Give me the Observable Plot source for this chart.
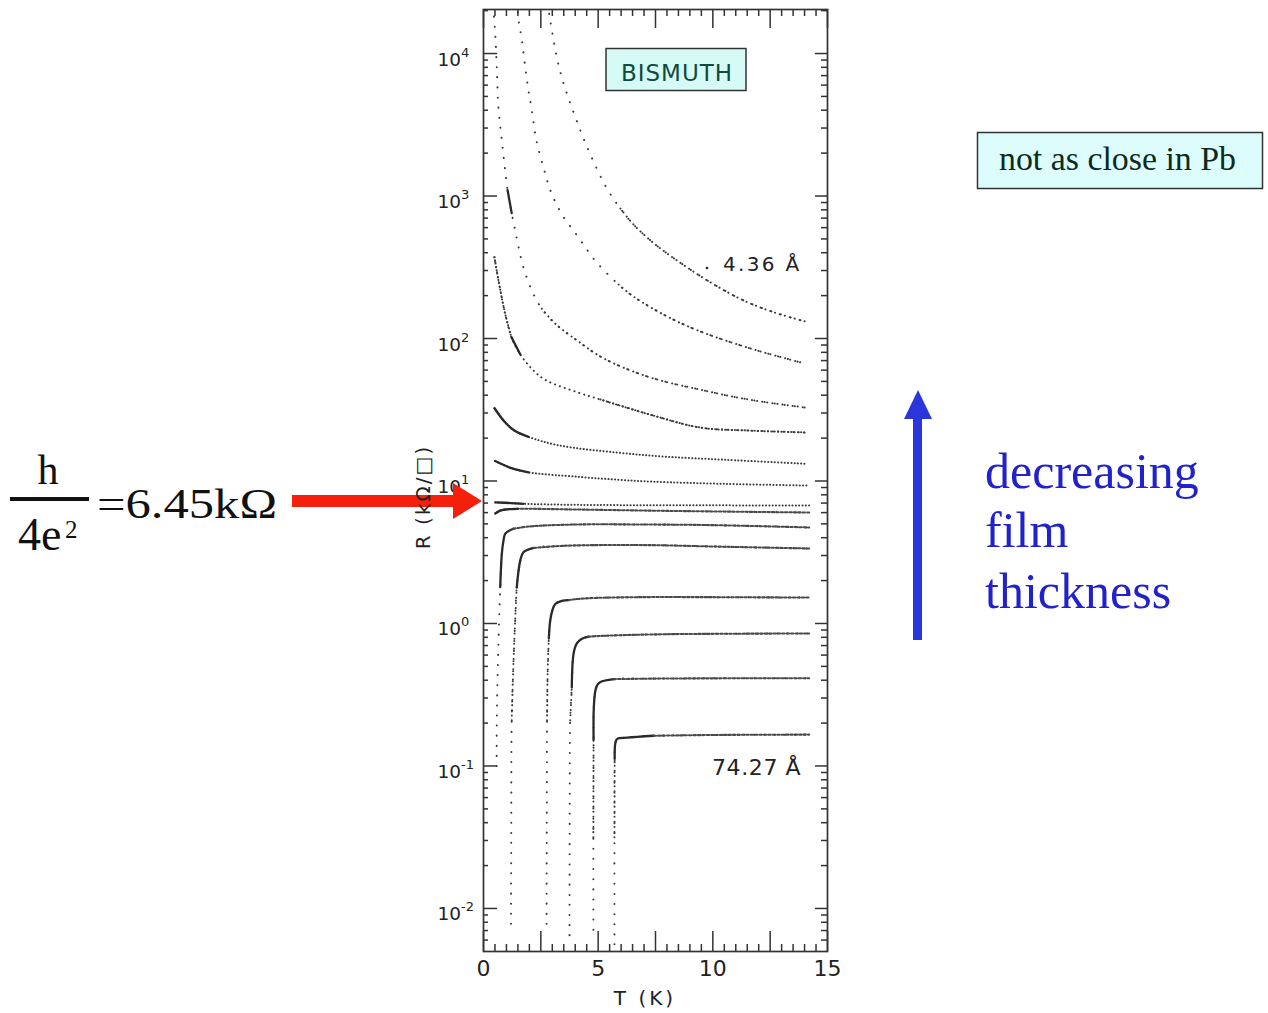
<!DOCTYPE html>
<html><head><meta charset="utf-8">
<script src="https://cdn.jsdelivr.net/npm/d3@7"></script>
<script src="https://cdn.jsdelivr.net/npm/@observablehq/plot@0.6"></script>
<style>
html,body{margin:0;padding:0;background:#fff;}
#wrap{position:relative;width:1268px;height:1013px;overflow:hidden;background:#fff;}
#chart{position:absolute;left:0;top:0;}
#anno{position:absolute;left:0;top:0;pointer-events:none;}
</style></head><body>
<div id="wrap">
<div id="chart"></div>
<svg id="anno" width="1268" height="1013" xmlns="http://www.w3.org/2000/svg">
  <!-- left formula -->
  <g font-family="Liberation Serif, Times New Roman, serif" fill="#111">
    <text x="48" y="484" text-anchor="middle" font-size="42">h</text>
    <rect x="10" y="497" width="79" height="4" fill="#111"/>
    <text x="18" y="550" font-size="46">4e</text>
    <text x="65" y="538" font-size="25">2</text>
    <text x="97" y="518" font-size="42" textLength="180" lengthAdjust="spacingAndGlyphs">=6.45kΩ</text>
  </g>
  <!-- red arrow -->
  <rect x="292" y="495" width="162" height="12" fill="#f4200c"/>
  <polygon points="453,483 482,501 453,519" fill="#f4200c"/>
  <!-- blue arrow -->
  <rect x="913" y="416" width="9" height="224" fill="#2a36dc"/>
  <polygon points="904,419 918,390 932,419" fill="#2a36dc"/>
  <g font-family="Liberation Serif, Times New Roman, serif" font-size="50" fill="#2222cc">
    <text x="985" y="488">decreasing</text>
    <text x="985" y="547">film</text>
    <text x="985" y="608">thickness</text>
  </g>
  <!-- right box -->
  <rect x="977.5" y="132.5" width="285" height="56" fill="#dcfdfb" stroke="#333" stroke-width="1.5"/>
  <text x="999" y="170" font-family="Liberation Serif, Times New Roman, serif" font-size="33" fill="#0d2a1c" textLength="237" lengthAdjust="spacingAndGlyphs">not as close in Pb</text>
  <!-- BISMUTH box -->
  <rect x="606" y="48.5" width="140" height="42" fill="#d6fbf7" stroke="#333" stroke-width="1.5"/>
  <text x="677" y="81" text-anchor="middle" font-family="DejaVu Sans, sans-serif" font-size="23" letter-spacing="1" fill="#0f4a3d">BISMUTH</text>
  <!-- curve labels and axis titles -->
  <g font-family="DejaVu Sans, sans-serif" fill="#222">
    <circle cx="707" cy="268" r="1.3" fill="#222"/>
    <text x="723" y="271" font-size="20" letter-spacing="2.3">4.36 Å</text>
    <text x="712" y="775" font-size="22" letter-spacing="0.6">74.27 Å</text>
    <text transform="translate(430,497) rotate(-90)" text-anchor="middle" font-size="20" letter-spacing="2">R (kΩ/□)</text>
    <text x="645" y="1005" text-anchor="middle" font-size="20" letter-spacing="3">T (K)</text>
  </g>
</svg>
</div>
<script>
// ---- data: T (K) and sheet resistance R (kΩ/□); curves ordered from thinnest (4.36 Å) to thickest (74.27 Å)
const curveNames = ["c01","c02","c03","c04","c05","c06","c07","c08","c09","c10","c11","c12","c13","c14"];

const T_c01 = [2.75,2.91,3.35,4.14,4.72,5.38,5.97,6.54,7.28,8.02,9.77,11.34,12.7,14.0];
const R_c01 = [26300,17100,7400,3130,1860,1130,817,631,488,394,255,185,152,132];
const T_c02 = [1.47,1.53,1.66,1.82,1.96,2.09,2.31,2.69,2.92,3.40,4.14,4.87,5.89,6.54,8.0,9.46,11.64,14.0];
const R_c02 = [22900,17100,12900,8020,5500,4180,2450,1440,1090,753,512,352,239,197,143,112,85.1,66.8];
const T_c03 = [0.42,0.44,0.51,0.58,0.65,0.80,0.95,1.05,1.23,1.38,1.53,1.74,2.11,2.54,3.13,4.14,5.02,5.89,7.4,9.46,11.6,14.0];
const R_c03 = [25100,20000,13800,7940,4170,2450,1480,1100,759,575,437,316,217,162,127,95.3,76.0,64.6,52.5,43.7,37.2,32.8];
const T_c04 = [0.48,0.65,0.95,1.22,1.60,2.09,2.69,4.14,5.1,7.4,9.46,11.6,14.1];
const R_c04 = [372,257,148,102,77.6,61.7,51.3,41.7,37.3,28.8,23.7,22.6,21.9];
const T_c05 = [0.48,0.95,1.38,1.96,3.27,5.89,8,10.5,14.1];
const R_c05 = [32.4,25.7,22.4,20.4,17.8,15.8,14.8,14.1,13.2];
const T_c06 = [0.51,1.22,1.96,4.14,5.89,7.4,10.5,14.1];
const R_c06 = [13.8,12.3,11.5,10.7,10.2,9.89,9.55,9.29];
const T_c07 = [0.52,1.2,1.74,4.14,8,14.2];
const R_c07 = [7.08,7.0,6.92,6.80,6.76,6.73];
const T_c08 = [0.52,0.7,0.95,1.5,4,8,14.2];
const R_c08 = [5.92,6.17,6.31,6.38,6.31,6.17,6.01];
const T_c09 = [0.575,0.58,0.62,0.68,0.73,0.80,0.87,0.95,1.3,1.96,4,7,10,14.2];
const R_c09 = [0.100,0.209,0.468,1.05,1.80,3.09,3.80,4.27,4.62,4.79,4.95,4.95,4.90,4.72];
const T_c10 = [1.20,1.21,1.23,1.31,1.38,1.45,1.60,1.74,2.2,3.5,7,10,14.2];
const R_c10 = [0.0078,0.0316,0.209,0.550,1.05,1.79,2.75,3.16,3.39,3.51,3.55,3.47,3.36];
const T_c11 = [2.75,2.76,2.77,2.80,2.85,2.91,3.0,3.13,3.42,3.71,4.43,6.76,10,14.2];
const R_c11 = [0.0078,0.0501,0.209,0.468,0.794,1.05,1.23,1.37,1.44,1.46,1.50,1.53,1.53,1.52];
const T_c12 = [3.75,3.76,3.78,3.85,3.93,4.07,4.29,4.58,5.6,8,14.2];
const R_c12 = [0.0065,0.0501,0.209,0.355,0.617,0.724,0.780,0.809,0.824,0.841,0.851];
const T_c13 = [4.79,4.79,4.80,4.81,4.88,4.97,5.10,5.68,8,14.2];
const R_c13 = [0.0071,0.0316,0.151,0.257,0.339,0.372,0.389,0.407,0.411,0.413];
const T_c14 = [5.71,5.71,5.72,5.75,5.83,6.27,7.43,10,14.2];
const R_c14 = [0.0056,0.0316,0.112,0.145,0.155,0.158,0.163,0.165,0.166];

// tick labels
const xLabelTicks = [0, 5, 10, 15];
const yLabelTicks = [1e-2, 1e-1, 1, 10, 100, 1000, 10000];

const Tvals = {c01:T_c01,c02:T_c02,c03:T_c03,c04:T_c04,c05:T_c05,c06:T_c06,c07:T_c07,c08:T_c08,c09:T_c09,c10:T_c10,c11:T_c11,c12:T_c12,c13:T_c13,c14:T_c14};
const Rvals = {c01:R_c01,c02:R_c02,c03:R_c03,c04:R_c04,c05:R_c05,c06:R_c06,c07:R_c07,c08:R_c08,c09:R_c09,c10:R_c10,c11:R_c11,c12:R_c12,c13:R_c13,c14:R_c14};

const rows = curveNames.flatMap(c => Tvals[c].map((t, i) => ({curve: c, i, T: t, R: Rvals[c][i]})));

// ---- styling: each curve has a base stroke plus overlays over point ranges
const lineStyles = {
  sparse: {stroke: "#3a3a3a", strokeDasharray: "0.1,10", strokeWidth: 2.0, strokeLinecap: "round"},
  dots:   {stroke: "#3a3a3a", strokeDasharray: "0.1,5",  strokeWidth: 2.0, strokeLinecap: "round"},
  fine:   {stroke: "#3a3a3a", strokeDasharray: "0.1,3.2", strokeWidth: 2.0, strokeLinecap: "round"},
  dash:   {stroke: "#4a4a4a", strokeDasharray: "2.4,2",  strokeWidth: 2.1},
  solid:  {stroke: "#2a2a2a", strokeWidth: 2.3, strokeLinecap: "round"}
};
const curveStyle = {
  c01: {base: "sparse", over: [["dots",6,13]]},
  c02: {base: "sparse", over: [["dots",12,17]]},
  c03: {base: "sparse", over: [["dots",13,21],["solid",7,8]]},
  c04: {base: "dots",   over: [["fine",0,3],["solid",3,4],["fine",8,12]]},
  c05: {base: "fine",   over: [["solid",0,3]]},
  c06: {base: "fine",   over: [["solid",0,2]]},
  c07: {base: "fine",   over: [["solid",0,2]]},
  c08: {base: "dash",   over: [["solid",0,3]]},
  c09: {base: "sparse", over: [["solid",4,8],["dash",8,13]]},
  c10: {base: "sparse", over: [["dots",2,5],["solid",5,8],["dash",8,12]]},
  c11: {base: "sparse", over: [["dots",2,4],["solid",4,9],["dash",9,13]]},
  c12: {base: "sparse", over: [["dots",2,3],["solid",3,7],["dash",7,10]]},
  c13: {base: "sparse", over: [["dots",1,2],["solid",2,7],["dash",7,9]]},
  c14: {base: "sparse", over: [["dots",1,2],["solid",2,6],["dash",6,8]]}
};

const ink = "#333";
const W = 1268, H = 1013, mL = 483, mR = 441, mT = 9, mB = 62;
const FW = W - mL - mR, FH = H - mT - mB;
const yDomain = [Math.pow(10, -2.302), Math.pow(10, 4.309)];

const xMajor = d3.range(0, 15.01, 2.5);
const xMinor = d3.range(0, 15.01, 0.5).filter(v => Math.abs(v / 2.5 - Math.round(v / 2.5)) > 1e-6);
const yMajor = d3.range(-2, 5).map(k => Math.pow(10, k));
const yMinor = d3.range(-3, 5).flatMap(k => d3.range(2, 10).map(m => m * Math.pow(10, k)))
  .filter(v => v > yDomain[0] * 1.01 && v < yDomain[1]);

const curveMarks = [];
for (const c of curveNames) {
  const cs = curveStyle[c];
  const all = rows.filter(r => r.curve === c);
  curveMarks.push(Plot.line(all, {x: "T", y: "R", curve: "catmull-rom", clip: true, ...lineStyles[cs.base]}));
  for (const [style, a, b] of cs.over) {
    const part = all.filter(r => r.i >= a && r.i <= b);
    curveMarks.push(Plot.line(part, {x: "T", y: "R", curve: "catmull-rom", clip: true, ...lineStyles[style]}));
  }
}

const chart = Plot.plot({
  width: W, height: H,
  marginLeft: mL, marginRight: mR, marginTop: mT, marginBottom: mB,
  style: {fontFamily: "DejaVu Sans, sans-serif", color: "#222", background: "transparent", overflow: "visible"},
  x: {domain: [0, 15]},
  y: {type: "log", domain: yDomain, axis: null},
  marks: [
    ...curveMarks,
    Plot.frame({stroke: ink, strokeWidth: 1.7}),
    // inward ticks, bottom and top
    Plot.tickX(xMajor, {x: d => d, insetTop: FH - 20, stroke: ink, strokeWidth: 1.5}),
    Plot.tickX(xMajor, {x: d => d, insetBottom: FH - 19, stroke: ink, strokeWidth: 1.5}),
    Plot.tickX(xMinor, {x: d => d, insetTop: FH - 7, stroke: ink, strokeWidth: 1.5}),
    Plot.tickX(xMinor, {x: d => d, insetBottom: FH - 7, stroke: ink, strokeWidth: 1.5}),
    // inward ticks, left and right
    Plot.tickY(yMajor, {y: d => d, insetRight: FW - 14, stroke: ink, strokeWidth: 1.5}),
    Plot.tickY(yMajor, {y: d => d, insetLeft: FW - 12, stroke: ink, strokeWidth: 1.5}),
    Plot.tickY(yMinor, {y: d => d, insetRight: FW - 5, stroke: ink, strokeWidth: 1.5}),
    Plot.tickY(yMinor, {y: d => d, insetLeft: FW - 6, stroke: ink, strokeWidth: 1.5}),
    // y tick labels: "10" with a raised exponent
    Plot.text(yLabelTicks, {y: d => d, text: () => "10", frameAnchor: "left", textAnchor: "start", lineAnchor: "bottom", dx: -46, dy: 12, fontSize: 18.5, fill: "#222"}),
    Plot.text(yLabelTicks, {y: d => d, text: d => String(Math.round(Math.log10(d))), frameAnchor: "left", textAnchor: "start", lineAnchor: "bottom", dx: -22.5, dy: 3, fontSize: 13, fill: "#222"}),
    // x tick labels
    Plot.axisX({ticks: xLabelTicks, tickFormat: d => String(d), tickSize: 0, tickPadding: 9, fontSize: 22, label: null, fill: "#222"})
  ]
});
document.getElementById("chart").appendChild(chart);
</script>
</body></html>
